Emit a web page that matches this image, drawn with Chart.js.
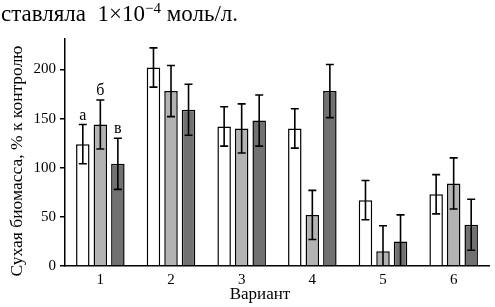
<!DOCTYPE html>
<html>
<head>
<meta charset="utf-8">
<script src="https://cdn.jsdelivr.net/npm/chart.js@4"></script>
<style>
  body { margin: 0; background: #fff; }
  #wrap { position: relative; width: 495px; height: 307px; }
  #head { position: absolute; left: 1px; top: 0px; font-family: 'Liberation Serif', serif; font-size: 23px; line-height: 27px; color: #000; white-space: nowrap; }
  #head sup { font-size: 15px; vertical-align: 8px; line-height: 0; }
  canvas { position: absolute; left: 0; top: 0; }
</style>
</head>
<body>
<div id="wrap">
  <canvas id="myChart" width="495" height="307"></canvas>
  <div id="head">ставляла&nbsp; 1×10<sup>−4</sup> моль/л.</div>
</div>
<script>
const variants = ['1', '2', '3', '4', '5', '6'];
const seriesA = [124, 202, 142, 140, 67, 73];
const errA = [20, 20, 20, 20, 20, 20];
const seriesB = [144, 178, 140, 52, 15, 84];
const errB = [25, 26, 25, 25, 26, 26];
const seriesC = [104, 159, 148, 178, 25, 42];
const errC = [26, 26, 26, 27, 27, 26];
const marks = ['а', 'б', 'в']; // letters above group 1
const yTicks = [0, 50, 100, 150, 200];
const xTitle = 'Вариант';
const yTitle = 'Сухая биомасса, % к контролю';

const serif = 'Liberation Serif';
const errs = [errA, errB, errC];

const errorBars = {
    id: 'errorBars',
    afterDatasetsDraw(chart) {
        const ctx = chart.ctx;
        const y = chart.scales.y;
        const area = chart.chartArea;
        ctx.save();
        ctx.beginPath();
        ctx.rect(area.left, area.top - 20, area.right - area.left, area.bottom - area.top + 20);
        ctx.clip();
        ctx.strokeStyle = '#000';
        ctx.lineWidth = 1.6;
        chart.data.datasets.forEach((ds, i) => {
            const meta = chart.getDatasetMeta(i);
            meta.data.forEach((bar, j) => {
                const v = ds.data[j];
                const e = errs[i][j];
                const top = y.getPixelForValue(v + e);
                const bot = y.getPixelForValue(v - e);
                ctx.beginPath();
                ctx.moveTo(bar.x, top);
                ctx.lineTo(bar.x, bot);
                ctx.moveTo(bar.x - 4, top);
                ctx.lineTo(bar.x + 4, top);
                ctx.moveTo(bar.x - 4, bot);
                ctx.lineTo(bar.x + 4, bot);
                ctx.stroke();
                if (j === 0) {
                    ctx.fillStyle = '#000';
                    ctx.font = '16px ' + serif;
                    ctx.textAlign = 'center';
                    ctx.textBaseline = 'middle';
                    ctx.fillText(marks[i], bar.x, top - 9);
                }
            });
        });
        ctx.restore();
    },
    afterDraw(chart) {
        // axis titles, placed like in the figure (x title is not centred on the plot)
        const ctx = chart.ctx;
        ctx.save();
        ctx.fillStyle = '#000';
        ctx.textAlign = 'center';
        ctx.textBaseline = 'middle';
        ctx.font = '17px ' + serif;
        ctx.fillText(xTitle, 260, 295);
        ctx.translate(17, 161);
        ctx.rotate(-Math.PI / 2);
        ctx.font = '17.5px ' + serif;
        ctx.fillText(yTitle, 0, 0);
        ctx.restore();
    }
};

const ctx = document.getElementById('myChart').getContext('2d');
const myChart = new Chart(ctx, {
    type: 'bar',
    data: {
        labels: variants,
        datasets: [
            { data: seriesA, backgroundColor: '#ffffff', borderColor: '#000', borderWidth: 1.5 },
            { data: seriesB, backgroundColor: '#b3b3b3', borderColor: '#000', borderWidth: 1.5 },
            { data: seriesC, backgroundColor: '#717171', borderColor: '#000', borderWidth: 1.5 }
        ]
    },
    options: {
        responsive: false,
        animation: false,
        devicePixelRatio: 1,
        categoryPercentage: 0.744,
        barPercentage: 0.77,
        layout: { padding: { top: 39, right: 6, left: 0, bottom: 0 } },
        plugins: {
            legend: { display: false },
            tooltip: { enabled: false }
        },
        scales: {
            x: {
                grid: { display: false, drawTicks: false },
                border: { display: true, color: '#000', width: 1.5 },
                ticks: {
                    padding: 5,
                    color: '#000',
                    font: { family: serif, size: 15 }
                },
                afterFit: scale => { scale.height = 41; }
            },
            y: {
                min: 0,
                max: 231,
                afterBuildTicks: scale => {
                    scale.ticks = yTicks.map(v => ({ value: v }));
                },
                grid: { drawOnChartArea: false, drawTicks: true, tickLength: 5, color: '#000', lineWidth: 1.5 },
                border: { display: true, color: '#000', width: 1.5 },
                ticks: {
                    padding: 4,
                    color: '#000',
                    font: { family: serif, size: 15 }
                },
                afterFit: scale => { scale.width = 65; }
            }
        }
    },
    plugins: [errorBars]
});
</script>
</body>
</html>
